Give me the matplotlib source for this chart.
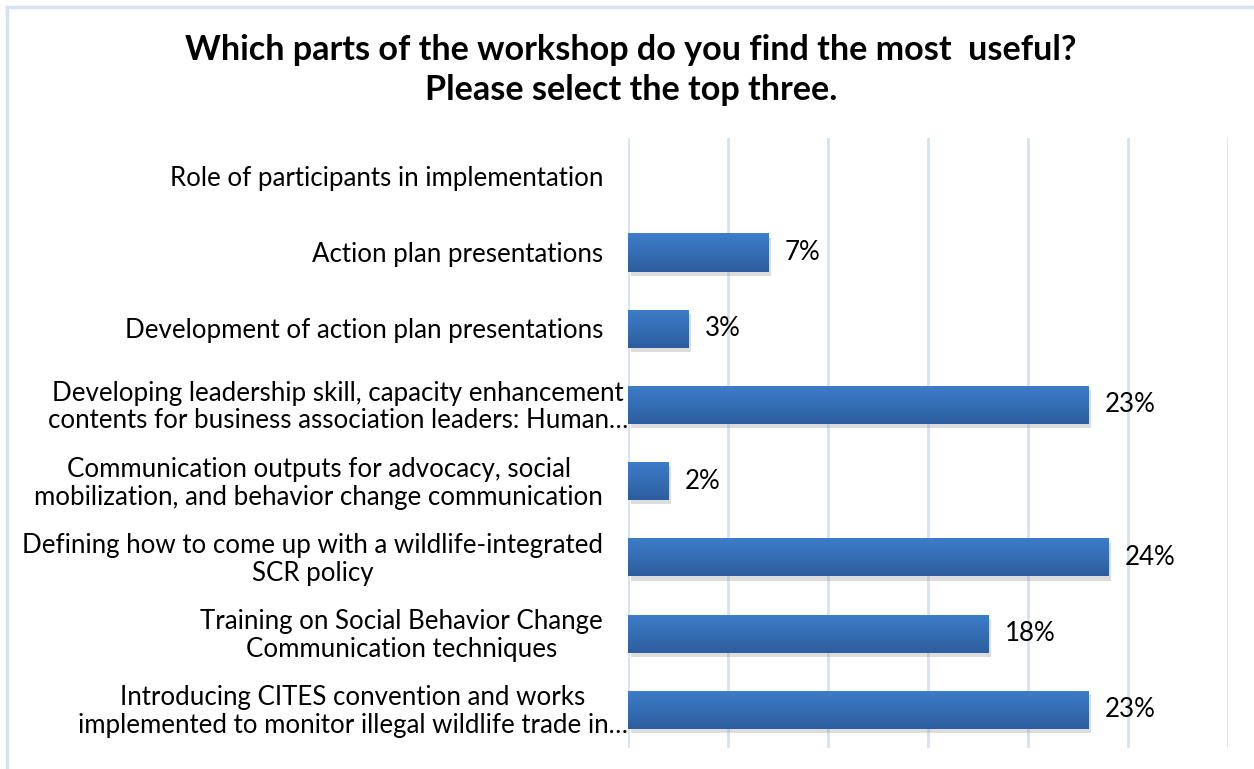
import numpy as np
import matplotlib.pyplot as plt
import matplotlib.patheffects as pe
from matplotlib.colors import LinearSegmentedColormap
from matplotlib.lines import Line2D
import matplotlib.transforms as mtransforms

plt.rcParams['font.family'] = ['Lato', 'DejaVu Sans']

# survey answers, bottom to top
labels = [
    'Introducing CITES convention and works\nimplemented to monitor illegal wildlife trade in\u2026',
    'Training on Social Behavior Change\nCommunication techniques',
    'Defining how to come up with a wildlife-integrated\nSCR policy',
    'Communication outputs for advocacy, social\nmobilization, and behavior change communication',
    'Developing leadership skill, capacity enhancement\ncontents for business association leaders: Human\u2026',
    'Development of action plan presentations',
    'Action plan presentations',
    'Role of participants in implementation',
]
values = [23, 18, 24, 2, 23, 3, 7, None]
title = 'Which parts of the workshop do you find the most  useful?\nPlease select the top three.'

grid_col = '#d6e2f3'
grad = LinearSegmentedColormap.from_list('bar', ['#2d5e9e', '#3d7dca'])
fs = 18.6

fig = plt.figure(figsize=(12.54, 7.69), dpi=100)
ax = fig.add_axes([0.5008, 0.0273, 0.4785, 0.793])

y = np.arange(len(labels))
vals = [v if v is not None else 0 for v in values]
bars = ax.barh(y, vals, height=0.5, color='#2d5e9e', zorder=3)

shadow = [pe.SimplePatchShadow(offset=(2, -3), shadow_rgbFace='#909090', alpha=0.3), pe.Normal()]
gimg = np.linspace(0, 1, 64).reshape(-1, 1)
for b, v in zip(bars, values):
    if not v:
        b.set_visible(False)
        continue
    b.set_path_effects(shadow)
    x0, y0 = b.get_x(), b.get_y()
    w, h = b.get_width(), b.get_height()
    im = ax.imshow(gimg, cmap=grad, aspect='auto', origin='lower',
                   extent=[x0, x0 + w, y0, y0 + h], zorder=4)
    im.set_clip_path(b)
    ax.text(v + 0.85, y0 + h / 2, f'{v}%', va='center', ha='left',
            fontsize=fs, color='black', zorder=5)

ax.set_xlim(0, 30)
ax.set_ylim(-0.5, len(labels) - 0.5)
ax.set_xticks(np.arange(0, 31, 5))
ax.grid(axis='x', color=grid_col, linewidth=2, zorder=0)
ax.tick_params(left=False, bottom=False, labelbottom=False, labelleft=False)
for s in ax.spines.values():
    s.set_visible(False)

# category labels, centred lines, right edge left of the axis
for yi, lab in zip(y, labels):
    pad = 0 if lab.endswith('\u2026') else -25
    tr = ax.get_yaxis_transform() + mtransforms.ScaledTranslation(pad / 100, -0.02, fig.dpi_scale_trans)
    ax.text(0, yi, lab, transform=tr, ha='right', va='center', multialignment='center',
            fontsize=fs, linespacing=1.14)

fig.text(0.503, 0.909, title, ha='center', va='center', fontsize=24.6,
         fontweight='bold', linespacing=1.32)

# chart frame
fig.add_artist(Line2D([7 / 1254, 7 / 1254], [0, 1 - 7 / 769], color=grid_col, lw=2.5))
fig.add_artist(Line2D([7 / 1254, 1], [1 - 7 / 769, 1 - 7 / 769], color=grid_col, lw=2.5))

fig.savefig('out.png', dpi=100, facecolor='white')
